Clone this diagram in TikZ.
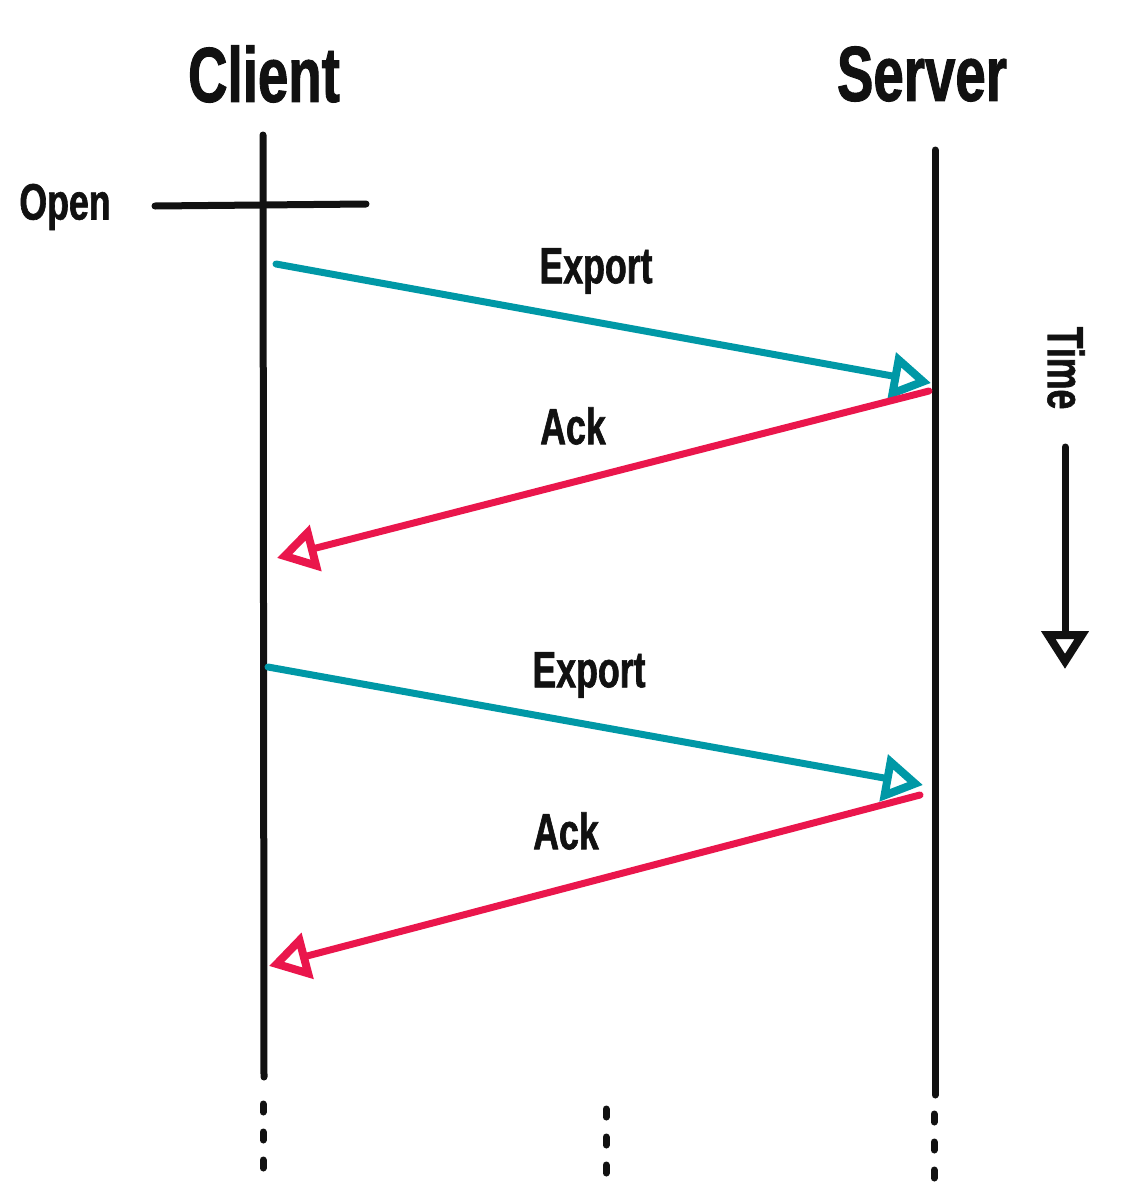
\documentclass[tikz,border=0pt]{standalone}
\usepackage{fontspec}
\setmainfont{Liberation Sans}
\newfontfamily\condfont{Liberation Sans}[FakeStretch=0.7,FakeBold=1.2]
\usetikzlibrary{arrows.meta}
\definecolor{exportc}{RGB}{0,152,166}
\definecolor{ackc}{RGB}{234,22,76}
\definecolor{inkc}{RGB}{17,17,17}
\begin{document}
\begin{tikzpicture}[x=1pt,y=-1pt,
  lifeline/.style={draw=inkc,line width=7pt,line cap=round},
  msg/.style={line width=7pt,line cap=round,
    -{Triangle[open,length=40pt,width=46pt,line width=8pt]}},
  exportmsg/.style={msg,draw=exportc},
  ackmsg/.style={msg,draw=ackc},
  title/.style={inner sep=0pt,text=inkc,font=\condfont\bfseries\fontsize{78}{82}\selectfont},
  lbl/.style={inner sep=0pt,text=inkc,font=\condfont\bfseries\fontsize{51}{55}\selectfont},
  dots/.style={draw=inkc,line width=7pt,line cap=round}
]
\useasboundingbox (0,0) rectangle (1124,1202);

% headers
\node[title] (client) at (264,74) {Client};
\node[title] (server) at (922,74) {Server};

% lifelines
\coordinate (ctop) at (263,135);
\coordinate (cbot) at (264,1077);
\coordinate (stop) at (935,150);
\coordinate (sbot) at (935,1095);
\draw[lifeline] (ctop) -- (cbot);
\draw[lifeline] (stop) -- (sbot);

% open marker
\node[lbl] (open) at (65,207) {Open};
\coordinate (openl) at (155,206);
\coordinate (openr) at (366,204);
\draw[lifeline] (openl) -- (openr);

% first exchange
\coordinate (e1a) at (276,264);
\coordinate (e1b) at (931,383);
\draw[exportmsg] (e1a) -- (e1b);
\node[lbl] (exp1) at (596,271) {Export};
\coordinate (a1a) at (929,391);
\coordinate (a1b) at (277,558);
\draw[ackmsg] (a1a) -- (a1b);
\node[lbl] (ack1) at (573,426) {Ack};

% second exchange
\coordinate (e2a) at (268,667);
\coordinate (e2b) at (923,785);
\draw[exportmsg] (e2a) -- (e2b);
\node[lbl] (exp2) at (589,675) {Export};
\coordinate (a2a) at (920,795);
\coordinate (a2b) at (269,966);
\draw[ackmsg] (a2a) -- (a2b);
\node[lbl] (ack2) at (566,831) {Ack};

% time axis
\node[lbl,rotate=-90] (time) at (1066,368) {Time};
\coordinate (ttop) at (1065,447);
\coordinate (tbot) at (1065,669);
\draw[line width=7pt,line cap=round,draw=inkc,
  -{Triangle[open,length=38pt,width=46pt,line width=8pt]}] (ttop) -- (tbot);

% continuation dots
\foreach \x/\y in {263/1108, 606/1113, 934/1118}{
  \foreach \k in {0,1,2}{
    \draw[dots] (\x,\y+28*\k-4) -- (\x,\y+28*\k+4);
  }
}
\end{tikzpicture}
\end{document}
